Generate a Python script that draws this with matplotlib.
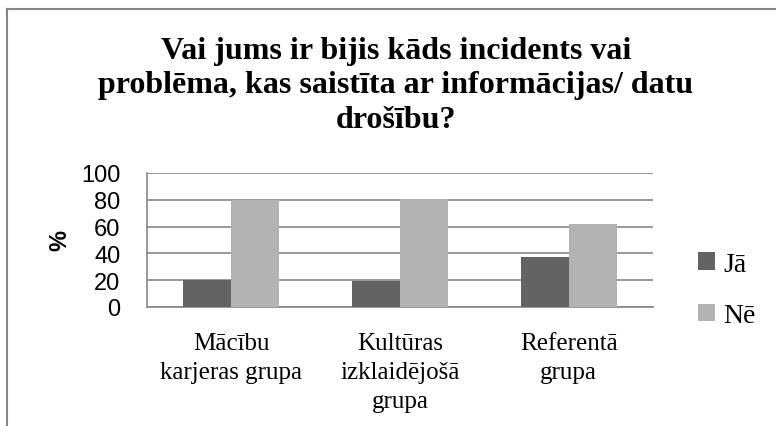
import matplotlib.pyplot as plt
import numpy as np

categories = ["Mācību\nkarjeras grupa", "Kultūras\nizklaidējošā\ngrupa", "Referentā\ngrupa"]
ja = [20.5, 19.6, 37.5]
ne = [79.5, 80.4, 62.3]
series = ["Jā", "Nē"]
yticks = [0, 20, 40, 60, 80, 100]

title = "Vai jums ir bijis kāds incidents vai\nproblēma, kas saistīta ar informācijas/ datu\ndrošību?"

fig = plt.figure(figsize=(7.76, 4.27), dpi=100)
ax = fig.add_axes([147/776, 1-308/427, 506/776, 134/427])

x = np.arange(len(categories))
w = 0.285
b1 = ax.bar(x - w/2, ja, w, color="#636363", label=series[0], zorder=3)
b2 = ax.bar(x + w/2, ne, w, color="#b3b3b3", label=series[1], zorder=3)

ax.set_xlim(-0.5, 2.5)
ax.set_ylim(0, 100)
ax.set_yticks(yticks)
ax.set_yticklabels([str(v) for v in yticks], fontfamily="Liberation Sans", fontsize=17)
ax.yaxis.grid(True, color="#868686", linewidth=1.2, zorder=0)
ax.set_xticks(x)
ax.set_xticklabels(categories, fontfamily="Liberation Serif", fontsize=18, linespacing=1.42)
ax.tick_params(axis="x", length=0, pad=18)
ax.tick_params(axis="y", length=0, pad=19)
for s in ["top", "right"]:
    ax.spines[s].set_visible(False)
for s in ["left", "bottom"]:
    ax.spines[s].set_color("#868686")
    ax.spines[s].set_linewidth(1.2)

ax.set_ylabel("%", fontfamily="Liberation Sans", fontsize=17, fontweight="bold", labelpad=7)

fig.text(396/776, 1-86/427, title, ha="center", va="center", fontfamily="Liberation Serif",
         fontsize=23, fontweight="bold", linespacing=1.25)

leg = fig.legend(handles=[b1, b2], labels=series, loc="center left", bbox_to_anchor=(673/776, 1-291/427),
                 frameon=False, prop={"family": "Liberation Serif", "size": 20},
                 handlelength=0.6, handleheight=0.6, handletextpad=0.3, labelspacing=0.95)

# chart frame (only top and left edges visible in the crop)
fig.add_artist(plt.Line2D([7/776, 7/776], [0, 1-10/427], color="#868686", linewidth=1.5))
fig.add_artist(plt.Line2D([7/776, 1], [1-10/427, 1-10/427], color="#868686", linewidth=1.5))

fig.savefig("out.png", dpi=100)
